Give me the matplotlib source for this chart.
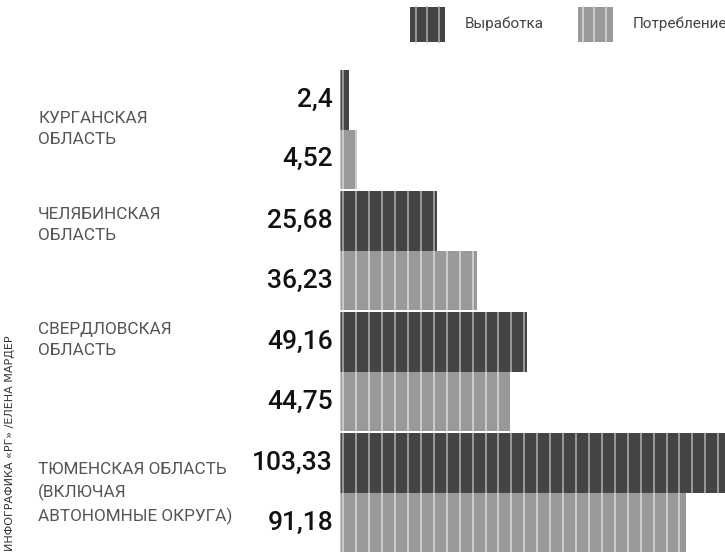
import matplotlib
matplotlib.use("Agg")
import matplotlib.pyplot as plt
from matplotlib.patches import Rectangle
from matplotlib.lines import Line2D
import numpy as np

regions = ["КУРГАНСКАЯ\nОБЛАСТЬ",
           "ЧЕЛЯБИНСКАЯ\nОБЛАСТЬ",
           "СВЕРДЛОВСКАЯ\nОБЛАСТЬ",
           "ТЮМЕНСКАЯ ОБЛАСТЬ\n(ВКЛЮЧАЯ\nАВТОНОМНЫЕ ОКРУГА)"]
production = [2.4, 25.68, 49.16, 103.33]
consumption = [4.52, 36.23, 44.75, 91.18]
legend_labels = ["Выработка", "Потребление"]

dark = "#444444"
light = "#999999"
W, H = 725, 554

fig = plt.figure(figsize=(W / 100, H / 100), dpi=100)
ax = fig.add_axes([340 / W, 0, 1 - 340 / W, 1 - 70 / H])
ax.set_xlim(0, (W - 340) / 3.795)
ax.set_ylim(8.13, 0)
ax.axis("off")

pitch = 2.034
step = 3.407
first = 0.87

def fmt(v):
    return ("%g" % v).replace(".", ",")

for i, (p, c) in enumerate(zip(production, consumption)):
    y0 = i * pitch
    for val, y, col, scol in [(p, y0, dark, "#a8a8a8"), (c, y0 + 1, light, "#d6d6d6")]:
        ax.barh(y + 0.5, val, height=1, left=0, color=col, linewidth=0)
        xs = np.concatenate([[0.1], np.arange(first, val, step)])
        ax.vlines(xs, y, y + 1, color=scol, linewidth=1.2)
        ax.annotate(fmt(val), xy=(0, y + 0.5), xytext=(-5, 0),
                    textcoords="offset points", ha="right", va="center",
                    fontsize=19, fontfamily="Roboto", fontweight="medium",
                    color="#111111", annotation_clip=False)

label_tops = [111, 207, 322, 462]
for name, t in zip(regions, label_tops):
    fig.text(38 / W, 1 - t / H, name, ha="left", va="top",
             fontsize=12.3, fontfamily="Roboto", color="#555555",
             linespacing=1.5)

# credit
fig.text(10 / W, 3 / H, "ИНФОГРАФИКА «РГ» /ЕЛЕНА МАРДЕР", rotation=90,
         ha="center", va="bottom", fontsize=8, fontfamily="DejaVu Sans",
         color="#333333")

# legend swatches
swatches = [(410, dark, "#a8a8a8", [416, 427, 439]),
            (578, light, "#d6d6d6", [583, 594, 606])]
for (x0, col, scol, stripes), lab in zip(swatches, legend_labels):
    fig.add_artist(Rectangle((x0 / W, 1 - 42 / H), 35 / W, 35 / H,
                             transform=fig.transFigure, color=col, lw=0))
    for sx in stripes:
        fig.add_artist(Line2D([sx / W, sx / W], [1 - 42 / H, 1 - 7 / H],
                              transform=fig.transFigure, color=scol, lw=1.2))
    fig.text((x0 + 55) / W, 1 - 24 / H, lab, ha="left", va="center",
             fontsize=11, fontfamily="Roboto", color="#444444")

fig.savefig("out.png", dpi=100)
